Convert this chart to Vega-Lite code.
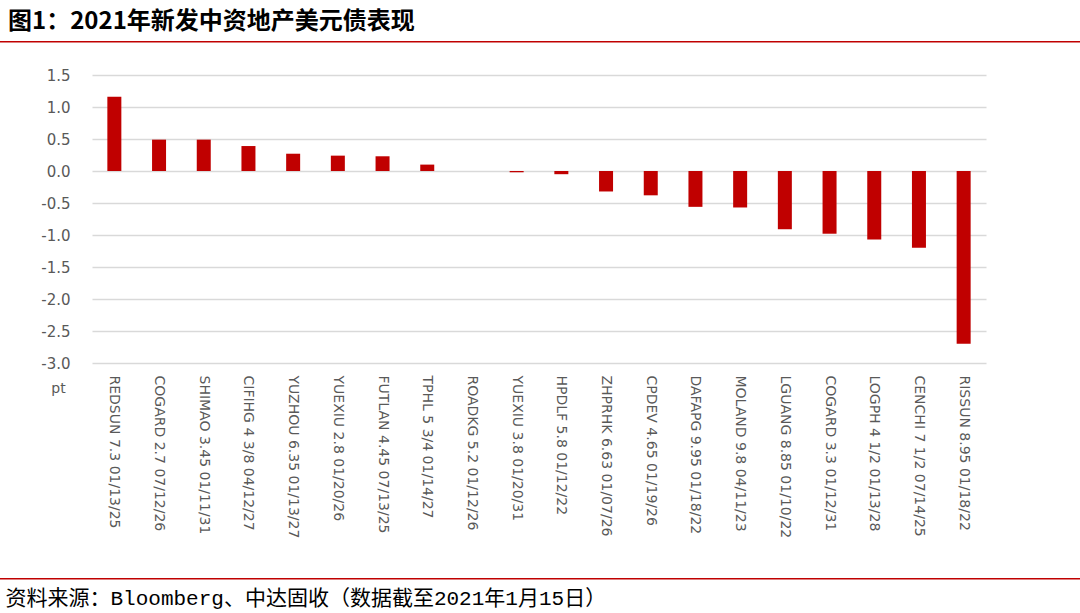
{
  "$schema": "https://vega.github.io/schema/vega-lite/v6.json",
  "autosize": "none",
  "width": 894,
  "height": 288,
  "padding": {"left": 92, "top": 75, "right": 94, "bottom": 250},
  "background": "white",
  "config": {"view": {"stroke": null}, "font": "DejaVu Sans"},
  "title": {
    "text": "图1：2021年新发中资地产美元债表现",
    "anchor": "start",
    "frame": "group",
    "dx": -84,
    "dy": 5,
    "offset": 0,
    "font": "Noto Sans CJK SC",
    "fontSize": 24,
    "fontWeight": "bold",
    "color": "#000000",
    "baseline": "middle"
  },
  "datasets": {
    "bonds": [
      {"bond": "REDSUN 7.3 01/13/25", "pt": 1.16},
      {"bond": "COGARD 2.7 07/12/26", "pt": 0.49},
      {"bond": "SHIMAO 3.45 01/11/31", "pt": 0.49},
      {"bond": "CIFIHG 4 3/8 04/12/27", "pt": 0.39},
      {"bond": "YUZHOU 6.35 01/13/27", "pt": 0.27},
      {"bond": "YUEXIU 2.8 01/20/26", "pt": 0.24},
      {"bond": "FUTLAN 4.45 07/13/25", "pt": 0.23},
      {"bond": "TPHL 5 3/4 01/14/27", "pt": 0.10},
      {"bond": "ROADKG 5.2 01/12/26", "pt": 0.0},
      {"bond": "YUEXIU 3.8 01/20/31", "pt": -0.02},
      {"bond": "HPDLF 5.8 01/12/22", "pt": -0.05},
      {"bond": "ZHPRHK 6.63 01/07/26", "pt": -0.32},
      {"bond": "CPDEV 4.65 01/19/26", "pt": -0.38},
      {"bond": "DAFAPG 9.95 01/18/22", "pt": -0.56},
      {"bond": "MOLAND 9.8 04/11/23", "pt": -0.57},
      {"bond": "LGUANG 8.85 01/10/22", "pt": -0.91},
      {"bond": "COGARD 3.3 01/12/31", "pt": -0.98},
      {"bond": "LOGPH 4 1/2 01/13/28", "pt": -1.07},
      {"bond": "CENCHI 7 1/2 07/14/25", "pt": -1.20},
      {"bond": "RISSUN 8.95 01/18/22", "pt": -2.70}
    ],
    "lines": [{"pos": 2.02}, {"pos": -6.37}]
  },
  "resolve": {"scale": {"y": "independent"}, "axis": {"y": "independent"}},
  "layer": [
    {
      "data": {"name": "bonds"},
      "mark": {"type": "bar", "color": "#C00000", "width": 14},
      "encoding": {
        "x": {
          "field": "bond",
          "type": "nominal",
          "sort": null,
          "scale": {"paddingInner": 0, "paddingOuter": 0},
          "axis": {
            "title": "资料来源：Bloomberg、中达固收（数据截至2021年1月15日）",
            "titleFont": "Liberation Mono, Noto Sans CJK SC",
            "titleFontSize": 21,
            "titleFontWeight": "normal",
            "titleColor": "#000000",
            "titleAnchor": "start",
            "titleAlign": "left",
            "titleBaseline": "middle",
            "titleX": -87,
            "titleY": 235,
            "labelAngle": 90,
            "labelAlign": "left",
            "labelBaseline": "middle",
            "labelFont": "DejaVu Sans",
            "labelFontSize": 14,
            "labelColor": "#595959",
            "labelPadding": 12,
            "labelLimit": 300,
            "domain": false,
            "ticks": false,
            "grid": false
          }
        },
        "y": {
          "field": "pt",
          "type": "quantitative",
          "scale": {"domain": [-3, 1.5], "nice": false, "zero": false},
          "axis": {
            "values": [-3, -2.5, -2, -1.5, -1, -0.5, 0, 0.5, 1, 1.5],
            "labelExpr": "replace(format(datum.value, '.1f'), '−', '-')",
            "labelOverlap": false,
            "title": "pt",
            "titleAngle": 0,
            "titleFont": "DejaVu Sans",
            "titleFontSize": 14,
            "titleFontWeight": "normal",
            "titleColor": "#595959",
            "titleX": -34,
            "titleY": 313,
            "titleAlign": "center",
            "titleBaseline": "middle",
            "labelFont": "DejaVu Sans",
            "labelFontSize": 15,
            "labelColor": "#595959",
            "labelPadding": 22,
            "domain": false,
            "ticks": false,
            "grid": true,
            "gridColor": "#d9d9d9",
            "gridWidth": 1.3
          }
        }
      }
    },
    {
      "data": {"name": "lines"},
      "mark": {"type": "rule", "color": "#C00000", "strokeWidth": 1.5, "x": -92, "x2": 988},
      "encoding": {
        "y": {
          "field": "pos",
          "type": "quantitative",
          "scale": {"domain": [-3, 1.5], "nice": false, "zero": false},
          "axis": null
        }
      }
    }
  ]
}
